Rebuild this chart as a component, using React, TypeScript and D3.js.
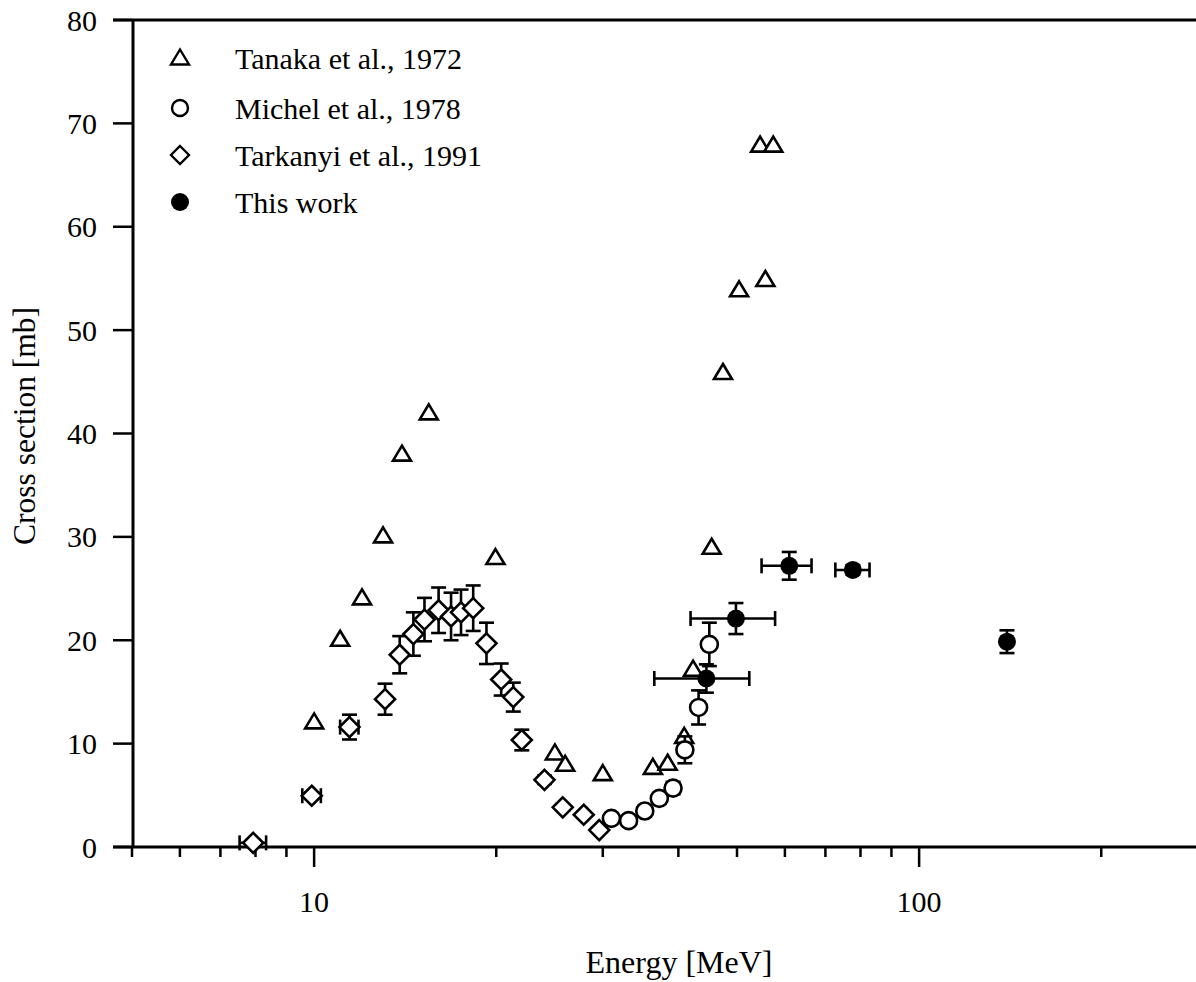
import React from "react";
import * as d3 from "d3";

// Tanaka et al., 1972 (open triangles): energy [MeV], cross section [mb]
const tanakaE = [10.0, 11.04, 12.0, 13.0, 13.97, 15.47, 19.94, 25.0, 26.0, 30.0, 36.3, 38.4, 40.9, 42.3, 45.4, 47.4, 50.4, 54.6, 55.7, 57.4];
const tanakaS = [12.1, 20.1, 24.1, 30.1, 38.0, 42.0, 28.0, 9.1, 8.0, 7.1, 7.7, 8.1, 10.7, 17.2, 29.0, 45.9, 53.9, 67.9, 54.9, 67.9];

// Michel et al., 1978 (open circles)
const michelE = [31.0, 33.1, 35.2, 37.2, 39.2, 41.0, 43.2, 45.0];
const michelS = [2.77, 2.55, 3.48, 4.7, 5.7, 9.4, 13.5, 19.6];
const michelErr = [0.3, 0.3, 0.3, 0.5, 0.6, 1.3, 1.65, 2.1];

// Tarkanyi et al., 1991 (open diamonds)
const tarkE = [7.93, 9.91, 11.44, 13.1, 13.85, 14.59, 15.22, 16.06, 16.84, 17.49, 18.32, 19.27, 20.38, 21.34, 22.04, 24.03, 25.76, 27.9, 29.6];
const tarkS = [0.4, 4.96, 11.6, 14.3, 18.6, 20.6, 22.0, 22.9, 22.3, 22.7, 23.1, 19.7, 16.2, 14.5, 10.35, 6.5, 3.84, 3.12, 1.64];
const tarkErr = [0.3, 0.3, 1.2, 1.5, 1.8, 2.1, 2.1, 2.2, 2.3, 2.2, 2.2, 2.0, 1.55, 1.4, 1.0, 0.4, 0.3, 0.2, 0.2];
const tarkEErr = [0.4, 0.35, 0.4, 0, 0, 0, 0, 0, 0, 0, 0, 0, 0, 0, 0, 0, 0, 0, 0];

// This work (filled circles)
const thisE = [44.5, 49.8, 61.0, 77.7, 139.7];
const thisS = [16.3, 22.1, 27.2, 26.8, 19.86];
const thisErr = [1.37, 1.5, 1.34, 0.45, 1.1];
const thisELo = [36.5, 41.9, 54.9, 72.7, 139.7];
const thisEHi = [52.4, 57.8, 66.4, 82.8, 139.7];

const yTicks = [0, 10, 20, 30, 40, 50, 60, 70, 80];
const xMajor = [10, 100];
const xMinor = [5, 6, 7, 8, 9, 20, 30, 40, 50, 60, 70, 80, 90, 200, 300];

const legendLabels = ["Tanaka et al., 1972", "Michel et al., 1978", "Tarkanyi et al., 1991", "This work"];

const FONT = "'Liberation Serif', 'Times New Roman', serif";

export default function App() {
  const W = 1196, H = 982;
  const left = 132, top = 20, bottom = 847;
  const x = d3.scaleLog().domain([5, 300]).range([left, left + 605 * Math.log10(60)]);
  const y = d3.scaleLinear().domain([0, 80]).range([bottom, top]);

  const tri = "M0,-8.5L9,6.5L-9,6.5Z";
  const dia = "M0,-10L10,0L0,10L-10,0Z";
  const cap = 7.5;
  const sw = 2.6;
  const ms = 2.6;
  const fsTick = 30;
  const fsLeg = 30;

  const vErr = (cx: number, s: number, e: number, k: string) => {
    if (!e) return null;
    const y1 = y(s + e), y2 = y(s - e);
    return (
      <g key={k}>
        <line x1={cx} x2={cx} y1={y1} y2={y2} stroke="#000" strokeWidth={sw} />
        <line x1={cx - cap} x2={cx + cap} y1={y1} y2={y1} stroke="#000" strokeWidth={sw} />
        <line x1={cx - cap} x2={cx + cap} y1={y2} y2={y2} stroke="#000" strokeWidth={sw} />
      </g>
    );
  };
  const hErr = (lo: number, hi: number, cy: number, k: string) => {
    const x1 = x(lo), x2 = x(hi);
    if (Math.abs(x2 - x1) < 1) return null;
    return (
      <g key={k}>
        <line x1={x1} x2={x2} y1={cy} y2={cy} stroke="#000" strokeWidth={sw} />
        <line x1={x1} x2={x1} y1={cy - cap} y2={cy + cap} stroke="#000" strokeWidth={sw} />
        <line x1={x2} x2={x2} y1={cy - cap} y2={cy + cap} stroke="#000" strokeWidth={sw} />
      </g>
    );
  };

  return (
    <svg width={W} height={H} style={{ position: "absolute", left: 0, top: 0, background: "#fff" }} fontFamily={FONT}>
      {/* axes frame */}
      <line x1={113} x2={W} y1={top} y2={top} stroke="#000" strokeWidth={3} />
      <line x1={113} x2={W} y1={bottom} y2={bottom} stroke="#000" strokeWidth={3} />
      <line x1={left + 1} x2={left + 1} y1={top} y2={bottom} stroke="#000" strokeWidth={3} />

      {/* y ticks */}
      {yTicks.map((t) => (
        <g key={"yt" + t}>
          <line x1={113} x2={left} y1={y(t)} y2={y(t)} stroke="#000" strokeWidth={2.5} />
          <text x={97} y={y(t)} dy="0.35em" textAnchor="end" fontSize={fsTick}>{t}</text>
        </g>
      ))}
      {/* x ticks */}
      {xMinor.map((t) => (
        <line key={"xm" + t} x1={x(t)} x2={x(t)} y1={bottom} y2={bottom + 10} stroke="#000" strokeWidth={2.5} />
      ))}
      {xMajor.map((t) => (
        <g key={"xM" + t}>
          <line x1={x(t)} x2={x(t)} y1={bottom} y2={bottom + 20} stroke="#000" strokeWidth={2.5} />
          <text x={x(t)} y={912} textAnchor="middle" fontSize={fsTick}>{t}</text>
        </g>
      ))}

      {/* axis titles */}
      <text x={679} y={973} textAnchor="middle" fontSize={32}>Energy [MeV]</text>
      <text transform={`translate(35,426) rotate(-90)`} textAnchor="middle" fontSize={31.5}>Cross section [mb]</text>

      {/* Tanaka */}
      {tanakaE.map((e, i) => (
        <path key={"ta" + i} d={tri} transform={`translate(${x(e)},${y(tanakaS[i])})`} fill="#fff" stroke="#000" strokeWidth={ms} />
      ))}
      {/* Michel */}
      {michelE.map((e, i) => vErr(x(e), michelS[i], michelErr[i], "me" + i))}
      {michelE.map((e, i) => (
        <circle key={"mi" + i} cx={x(e)} cy={y(michelS[i])} r={8.5} fill="#fff" stroke="#000" strokeWidth={ms} />
      ))}
      {/* Tarkanyi */}
      {tarkE.map((e, i) => (
        <g key={"tke" + i}>
          {vErr(x(e), tarkS[i], tarkErr[i], "tv" + i)}
          {tarkEErr[i] ? hErr(e - tarkEErr[i], e + tarkEErr[i], y(tarkS[i]), "th" + i) : null}
        </g>
      ))}
      {tarkE.map((e, i) => (
        <path key={"tk" + i} d={dia} transform={`translate(${x(e)},${y(tarkS[i])})`} fill="#fff" stroke="#000" strokeWidth={ms} />
      ))}
      {/* This work */}
      {thisE.map((e, i) => (
        <g key={"twe" + i}>
          {vErr(x(e), thisS[i], thisErr[i], "wv" + i)}
          {hErr(thisELo[i], thisEHi[i], y(thisS[i]), "wh" + i)}
        </g>
      ))}
      {thisE.map((e, i) => (
        <circle key={"tw" + i} cx={x(e)} cy={y(thisS[i])} r={9} fill="#000" />
      ))}

      {/* legend */}
      {legendLabels.map((lab, i) => {
        const cy = [58, 108, 155, 202][i];
        const mk =
          i === 0 ? <path d={tri} transform={`translate(180,${cy})`} fill="#fff" stroke="#000" strokeWidth={2.4} /> :
          i === 1 ? <circle cx={180} cy={cy} r={8} fill="#fff" stroke="#000" strokeWidth={2.4} /> :
          i === 2 ? <path d={dia} transform={`translate(180,${cy}) scale(0.9)`} fill="#fff" stroke="#000" strokeWidth={2.6} /> :
          <circle cx={180} cy={cy} r={9} fill="#000" />;
        return (
          <g key={"lg" + i}>
            {mk}
            <text x={235} y={cy + 11} fontSize={fsLeg}>{lab}</text>
          </g>
        );
      })}
    </svg>
  );
}
